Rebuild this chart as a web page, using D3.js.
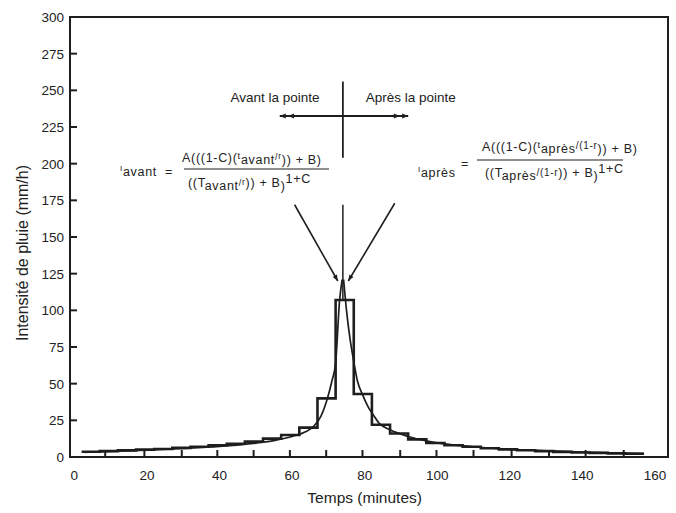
<!DOCTYPE html>
<html><head><meta charset="utf-8">
<script src="https://cdn.jsdelivr.net/npm/d3@7"></script>
<style>
body{margin:0;background:#fff;}
svg text{font-family:"Liberation Sans",Arial,sans-serif;fill:#222;}
</style></head>
<body><svg id="c" width="676" height="513"></svg>
<script>
// Hyetograph bars: 5-minute blocks (start minute, intensity mm/h)
const barStarts = [2,7,12,17,22,27,32,37,42,47,52,57,62,67,72,77,82,87,92,97,102,107,112,117,122,127,132,137,142,147,152];
const barValues = [3.6,4,4.5,5,5.5,6.2,7,8,9,10.5,12.5,15,20,40,107,43,22,16,12,9.5,8,7,6,5.2,4.6,4,3.5,3.1,2.8,2.5,2.2];
const barWidth = 5;
// Continuous Chicago curve (minutes, mm/h) before and after the peak
const curveBeforeT = [3,10,20,30,40,50,55,60,64,66,68,69.5,71,72,73.1,73.8];
const curveBeforeI = [3.2,3.8,4.7,5.8,7.2,9.5,11.2,14,17.5,21,28,38,52,64,107,121];
const curveAfterT = [74.2,75,76,76.8,78,79.5,81,82.3,84,87,92,97,102,110,120,130,140,150,157];
const curveAfterI = [121,100,80,68,52,42,34,29,23,18.5,14,11,9,7,5.2,4.2,3.3,2.7,2.3];
// Axis ticks
const xTickLabels = [0,20,40,60,80,100,120,140,160];
const xTickMarks = [8.5,19.3,29.6,39.4,49.4,59.4,69.4,79.4,89.8,99.8,110,120.5,130.8,140.9,151.4];
const yTickLabels = [0,25,50,75,100,125,150,175,200,225,250,275,300];
const peakTime = 74;

const svg = d3.select("#c");
const x = d3.scaleLinear().domain([-1.2,163.6]).range([70,668]);
const y = d3.scaleLinear().domain([0,300]).range([457,17]);
const ink = "#1e1e1e";

// Frame
svg.append("rect").attr("x",x(-1.2)).attr("y",y(300)).attr("width",x(163.6)-x(-1.2)).attr("height",y(0)-y(300))
  .attr("fill","none").attr("stroke",ink).attr("stroke-width",2);

// Y ticks & labels
svg.append("g").selectAll("line").data(yTickLabels.filter(v=>v>0&&v<300)).join("line")
  .attr("x1",x(-1.2)).attr("x2",x(-1.2)+7).attr("y1",d=>y(d)).attr("y2",d=>y(d))
  .attr("stroke",ink).attr("stroke-width",2);
svg.append("g").selectAll("text").data(yTickLabels).join("text")
  .attr("x",x(-1.2)-6).attr("y",d=>y(d)+5).attr("text-anchor","end").attr("font-size",13.5).text(d=>d);
// X ticks & labels
svg.append("g").selectAll("line").data(xTickMarks).join("line")
  .attr("x1",d=>x(d)).attr("x2",d=>x(d)).attr("y1",y(0)).attr("y2",y(0)-7)
  .attr("stroke",ink).attr("stroke-width",2);
svg.append("g").selectAll("text").data(xTickLabels).join("text")
  .attr("x",d=>x(d)).attr("y",y(0)+23).attr("text-anchor","middle").attr("font-size",13.5).text(d=>d);

// Axis titles
svg.append("text").attr("x",(x(0)+x(160))/2).attr("y",503).attr("text-anchor","middle").attr("font-size",15.5).text("Temps (minutes)");
svg.append("text").attr("transform",`translate(28,253) rotate(-90)`).attr("text-anchor","middle").attr("font-size",16).text("Intensité de pluie (mm/h)");

// Step hyetograph
const stepPts = [];
barStarts.forEach((s,i)=>{ stepPts.push([s,barValues[i]]); stepPts.push([s+barWidth,barValues[i]]); });
svg.append("path").datum(stepPts)
  .attr("d",d3.line().x(d=>x(d[0])).y(d=>y(d[1])))
  .attr("fill","none").attr("stroke",ink).attr("stroke-width",2.6).attr("stroke-linejoin","miter");

// Smooth curve
const lineGen = d3.line().x(d=>x(d[0])).y(d=>y(d[1])).curve(d3.curveMonotoneX);
svg.append("path").datum(curveBeforeT.map((t,i)=>[t,curveBeforeI[i]])).attr("d",lineGen)
  .attr("fill","none").attr("stroke",ink).attr("stroke-width",1.7);
svg.append("path").datum(curveAfterT.map((t,i)=>[t,curveAfterI[i]])).attr("d",lineGen)
  .attr("fill","none").attr("stroke",ink).attr("stroke-width",1.7);

// Annotations
const defs = svg.append("defs");
defs.append("marker").attr("id","ah").attr("viewBox","0 0 10 10").attr("refX",10).attr("refY",5)
  .attr("markerWidth",8).attr("markerHeight",6).attr("orient","auto").attr("markerUnits","userSpaceOnUse")
  .append("path").attr("d","M0,1L10,5L0,9Z").attr("fill",ink);
const ann = svg.append("g").attr("stroke",ink).attr("fill","none");
// cross
ann.append("line").attr("x1",x(peakTime)).attr("x2",x(peakTime)).attr("y1",y(256)).attr("y2",y(204)).attr("stroke-width",1.8);
ann.append("line").attr("x1",x(56.6)).attr("x2",x(92)).attr("y1",y(232.5)).attr("y2",y(232.5)).attr("stroke-width",1.8);
[[62,56.6],[62,58.9],[86,92],[86,89.7]].forEach(p=>{
  ann.append("line").attr("x1",x(p[0])).attr("x2",x(p[1])).attr("y1",y(232.5)).attr("y2",y(232.5))
    .attr("stroke-width",0.01).attr("marker-end","url(#ah)");
});
// pointer lines
ann.append("line").attr("x1",x(peakTime)).attr("x2",x(peakTime)).attr("y1",y(172)).attr("y2",y(107)).attr("stroke-width",1.5);
ann.append("line").attr("x1",x(60.7)).attr("y1",y(172)).attr("x2",x(72.6)).attr("y2",y(120)).attr("stroke-width",1.6).attr("marker-end","url(#ah)");
ann.append("line").attr("x1",x(88.3)).attr("y1",y(173)).attr("x2",x(75.5)).attr("y2",y(120)).attr("stroke-width",1.6).attr("marker-end","url(#ah)");

svg.append("text").attr("x",x(67.6)).attr("y",y(242)).attr("text-anchor","end").attr("font-size",13.5).text("Avant la pointe");
svg.append("text").attr("x",x(80.3)).attr("y",y(242)).attr("text-anchor","start").attr("font-size",13.5).text("Après la pointe");

// Formulas
const fg = svg.append("g").attr("letter-spacing",0.7);
function txt(xp, yp, parts, anchor){
  const t = fg.append("text").attr("x",xp).attr("y",yp).attr("text-anchor",anchor||"start").attr("font-size",12.5);
  parts.forEach(p=>t.append("tspan").attr("font-size",p[1]).attr("dy",p[2]).text(p[0]));
  return t;
}
// left: I avant
txt(120,176,[["I",8,-5],["avant",12.5,5]]);
txt(165,176,[["=",12.5,0]]);
fg.append("line").attr("x1",184).attr("x2",329).attr("y1",169).attr("y2",169).attr("stroke",ink).attr("stroke-width",1);
txt(182,162,[["A(((1-C)(",12.5,0],["t",9.5,-3],["avant",12.5,5],["/",9,-4],["r",8.5,-1],[")) + B)",12.5,5]]);
txt(188,187,[["((T",12.5,0],["avant",12.5,3],["/",9,-4],["r",8.5,-1],[")) + B",12.5,2],[")",12.5,3],["1+C",12.5,-7]]);
// right: I après
txt(418,177,[["I",8,-5],["après",12.5,5]]);
txt(461,168,[["=",12.5,0]]);
fg.append("line").attr("x1",477).attr("x2",623).attr("y1",160).attr("y2",160).attr("stroke",ink).attr("stroke-width",1);
txt(482,151,[["A(((1-C)(",12.5,0],["t",9.5,-3],["après",12.5,5],["/(1-r",10,-4],[")) + B)",12.5,4]]);
txt(485,177,[["((T",12.5,0],["après",12.5,3],["/(1-r",10,-4],[")) + B",12.5,1],[")",12.5,3],["1+C",12.5,-7]]);
</script></body></html>
